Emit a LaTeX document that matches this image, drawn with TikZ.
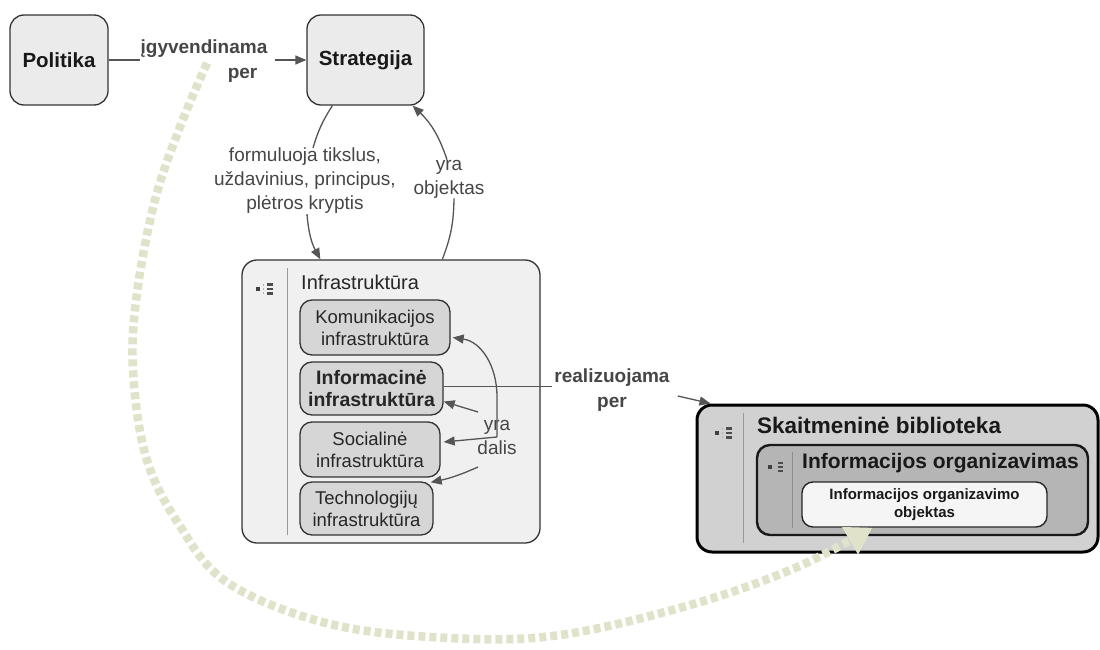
\documentclass[tikz,border=0pt]{standalone}
\usepackage{fontspec}
\setmainfont{Liberation Sans}
\usetikzlibrary{arrows.meta,calc}
\definecolor{lineg}{RGB}{85,85,85}
\definecolor{linktxt}{RGB}{70,70,70}
\definecolor{dotc}{RGB}{224,226,202}
\begin{document}
\begin{tikzpicture}[x=1pt,y=1pt,
  concept/.style={draw=black!80, line width=1.3pt, rounded corners=14pt, fill=black!8,
    font=\fontsize{20.5}{24}\selectfont\bfseries, text=black!90, inner sep=0pt, align=center},
  container/.style={draw=black!80, line width=1.3pt, rounded corners=15pt, fill=black!6, inner sep=0pt},
  subbox/.style={draw=black!80, line width=1.3pt, rounded corners=12pt, fill=black!16,
    font=\fontsize{18.5}{22}\selectfont, text=black!85, inner sep=0pt, align=center},
  bigbox/.style={draw=black, line width=3pt, rounded corners=15pt, fill=black!18, inner sep=0pt},
  midbox/.style={draw=black!90, line width=2.4pt, rounded corners=13pt, fill=black!29, inner sep=0pt},
  smallbox/.style={draw=black!85, line width=1.4pt, rounded corners=11pt, fill=black!4,
    font=\fontsize{15}{18}\selectfont\bfseries, text=black!90, inner sep=0pt, align=center},
  linkb/.style={font=\fontsize{19}{25}\selectfont\bfseries, text=linktxt, inner sep=0pt},
  linkr/.style={font=\fontsize{19}{24}\selectfont, text=linktxt, inner sep=0pt, align=center},
  conn/.style={draw=lineg, line width=1.3pt},
  arr/.style={conn, -{Triangle[length=11pt,width=9pt]}},
  strip/.style={draw=black!40, line width=1pt},
  dotarc/.style={draw=dotc, line width=8.5pt, dash pattern=on 7pt off 4pt,
    -{Triangle[length=26pt,width=30pt]}},
  listicon/.pic={
    \fill[black!75] (-9.5,-2.2) rectangle (-5.3,2.2);
    \fill[black!30] (-2.5,-0.7) rectangle (-1,0.7);
    \fill[black!30] (-2.5,3.2) rectangle (-1,4.6);
    \fill[black!30] (-2.5,-4.6) rectangle (-1,-3.2);
    \fill[black!70] (2,3.4) rectangle (8,5.8);
    \fill[black!70] (2,-1.2) rectangle (8,1.2);
    \fill[black!70] (2,-5.8) rectangle (8,-3.4);
  }]

\useasboundingbox (0,0) rectangle (1100,-650);
\fill[white] (0,0) rectangle (1100,-650);

% top concepts
\node[concept, minimum width=98, minimum height=90] (pol) at (59,-60) {Politika};
\node[concept, minimum width=117, minimum height=90] (str) at (365.5,-60) {Strategija};

% infrastructure group
\node[container, minimum width=298, minimum height=283] (inf) at (391,-401.5) {};
\draw[strip] (287,-268) -- (287,-535);
\pic at (265,-289) {listicon};
\node[font=\fontsize{20}{24}\selectfont, text=black!85, anchor=west, inner sep=0pt] (inft) at (301,-282) {Infrastruktūra};
\node[subbox, minimum width=150, minimum height=55] (kom) at (375,-327.5) {Komunikacijos\\infrastruktūra};
\node[subbox, minimum width=143, minimum height=53, font=\fontsize{19.5}{22}\selectfont\bfseries] (inform) at (371.5,-388.5) {Informacinė\\infrastruktūra};
\node[subbox, minimum width=140, minimum height=55] (soc) at (370,-449.5) {Socialinė\\infrastruktūra};
\node[subbox, minimum width=133, minimum height=53] (tech) at (366.5,-508.5) {Technologijų\\infrastruktūra};

% digital library group
\node[bigbox, minimum width=401, minimum height=147] (sk) at (897.5,-478.5) {};
\draw[strip] (743,-413) -- (743,-543);
\pic at (724,-433) {listicon};
\node[font=\fontsize{22.5}{26}\selectfont\bfseries, text=black!90, anchor=west, inner sep=0pt] (skt) at (757,-425) {Skaitmeninė biblioteka};
\node[midbox, minimum width=331, minimum height=90] (org) at (922.5,-490) {};
\draw[strip, draw=black!45] (792,-452) -- (792,-528);
\pic[scale=0.85] at (776,-467) {listicon};
\node[font=\fontsize{21}{25}\selectfont\bfseries, text=black!90, anchor=west, inner sep=0pt] (orgt) at (802,-463) {Informacijos organizavimas};
\node[smallbox, minimum width=245, minimum height=45] (obj) at (924.5,-504.5) {Informacijos organizavimo\\objektas};

% Politika -> Strategija
\node[linkb, align=right] (l1) at (204,-61) {įgyvendinama\\per\hspace*{10pt}};
\draw[conn] (pol.east) -- (pol.east -| l1.west);
\draw[arr] ($(l1.east |- str.west)+(7,0)$) -- (str.west);

% Strategija -> Infrastruktura
\node[linkr] (l2) at (305,-181) {formuluoja tikslus,\\uždavinius, principus,\\plėtros kryptis};
\draw[conn] ($(str.south west)+(26,0)$) to[bend right=8] ($(l2.north)+(8,0)$);
\draw[arr] ($(l2.south)+(2,0)$) to[bend right=12] ($(inf.north west)+(79,0)$);

% Infrastruktura -> Strategija
\node[linkr] (l3) at (449,-179) {yra\\objektas};
\draw[conn] ($(inf.north west)+(201,0)$) to[bend right=10] ($(l3.south)+(5,0)$);
\draw[arr] ($(l3.north)+(-2,0)$) to[bend right=14] ($(str.south east)+(-12,0)$);

% Informacine -> Skaitmenine biblioteka
\node[linkb, align=center] (l4) at (612,-390) {realizuojama\\per};
\draw[conn] ($(inform.east)+(0,2)$) -- ($(inform.east -| l4.west)+(-2,2)$);
\draw[arr] ($(l4.east)+(8,-6)$) -- ($(sk.north west)+(15,0)$);

% parts of the infrastructure
\node[linkr] (l5) at (497,-437) {yra\\dalis};
\draw[arr] (l5.center) -- ($(l5.center)+(0,40)$) .. controls +(0,32) and +(28,-4) .. ($(kom.east)+(2,-10)$);
\draw[arr] (l5.center) -- ($(soc.east)+(3,7.5)$);
\draw[arr] ($(l5.center)+(-19,25)$) -- ($(inform.east)+(0,-13)$);
\draw[arr] ($(l5.center)+(-19,-30)$) to[bend left=6] ($(tech.north east)+(-3,-1)$);

% dotted arc from the policy link to the organized object
\coordinate (arcstart) at ($(l1.center)+(3,-2)$);
\coordinate (arcend) at ($(obj.south)+(-52,0)$);
\draw[dotarc] plot[smooth, tension=0.6] coordinates {(arcstart) (180,-127) (155,-200) (137,-293) (133,-370) (146,-457) (178,-523) (228,-583) (330,-624) (450,-638) (560,-635) (690,-605) (795,-568) (arcend)};

\end{tikzpicture}
\end{document}
